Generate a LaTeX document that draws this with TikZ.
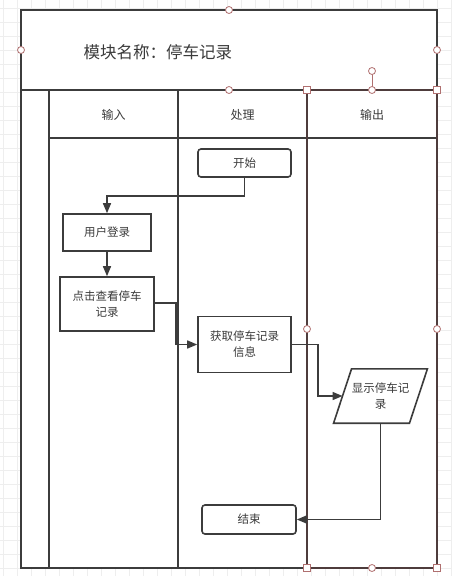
\documentclass[tikz,border=0pt]{standalone}
\usepackage{fontspec}
\setmainfont{Noto Sans CJK SC}
\usetikzlibrary{arrows.meta,calc}
\definecolor{frameC}{HTML}{3C3C3C}
\definecolor{selC}{HTML}{4E3C3C}
\definecolor{handleC}{HTML}{B07070}
\definecolor{txtC}{HTML}{3A3A3A}
\definecolor{gridC}{HTML}{EEEEEE}
\tikzset{
  frame/.style={draw=frameC,line width=1.8pt},
  sel/.style={draw=selC,line width=1.8pt},
  boxstyle/.style={draw=frameC,line width=1.6pt,fill=white,text=txtC,align=center,
    font=\fontsize{11.5}{16}\selectfont,inner sep=0pt},
  termbox/.style={boxstyle,rounded corners=3pt},
  flow/.style={draw=frameC,line width=1.5pt,-{Triangle[length=10pt,width=8pt]}},
  lanelabel/.style={text=txtC,font=\fontsize{12}{14}\selectfont},
  hcirc/.style={draw=handleC,fill=white,line width=0.8pt,circle,minimum size=7pt,inner sep=0pt},
  hsq/.style={draw=handleC,fill=white,line width=0.8pt,rectangle,minimum size=7pt,inner sep=0pt}
}
\begin{document}
\begin{tikzpicture}[x=1pt,y=-1pt]
\useasboundingbox (0,0) rectangle (452,576);
\fill[white] (0,0) rectangle (452,576);
% background grid
\foreach \i in {0,...,32} {\draw[gridC,line width=0.6pt] ({3+14*\i},0) -- ({3+14*\i},576);}
\foreach \j in {0,...,41} {\draw[gridC,line width=0.6pt] (0,{8+14*\j}) -- (452,{8+14*\j});}
\fill[white] (21,10) rectangle (437,568);
% frame and lanes
\draw[frame] (21,10) rectangle (437,568);
\draw[frame] (21,90) -- (307,90);
\draw[frame] (49,90) -- (49,568);
\draw[frame] (178,90) -- (178,568);
\draw[frame] (49,138) -- (437,138);
\draw[sel] (307,90) rectangle (437,568);
% title and lane labels
\node[anchor=west,text=txtC,font=\fontsize{16.5}{20}\selectfont] (title) at (80,52) {模块名称：停车记录};
\node[lanelabel] (lin) at (113.5,115) {输入};
\node[lanelabel] (lproc) at (242.5,115) {处理};
\node[lanelabel] (lout) at (372,115) {输出};
% flow nodes
\node[termbox,minimum width=93pt,minimum height=28pt] (start) at (244.5,163) {开始};
\node[boxstyle,minimum width=88pt,minimum height=37pt] (login) at (107,232.5) {用户登录};
\node[boxstyle,minimum width=94pt,minimum height=54pt] (click) at (107,304) {点击查看停车\\记录};
\node[boxstyle,minimum width=93pt,minimum height=56pt] (fetch) at (244.5,344.5) {获取停车记录\\信息};
\node[text=txtC,align=center,font=\fontsize{11.5}{16}\selectfont,inner sep=0pt,minimum width=75.5pt,minimum height=54pt] (disp) at (380.5,396) {显示停车记\\录};
\draw[draw=frameC,line width=1.6pt,line join=miter]
  ($(disp.north west)+(9,0)$) -- ($(disp.north east)+(9,0)$) -- ($(disp.south east)+(-9,0)$) -- ($(disp.south west)+(-9,0)$) -- cycle;
\node[termbox,minimum width=94pt,minimum height=29pt] (end) at (249,519.5) {结束};
% connectors
\draw[flow] (start.south) |- (107,196) -- (login.north);
\draw[flow] (login) -- (click);
\draw[flow] (click.east |- 0,303) -- (176,303) |- (fetch.west);
\draw[flow] (fetch.east) -- (318,344.5) |- (disp.west);
\draw[flow] (disp.south) |- (end.east);
% selection handles
\draw[handleC,line width=0.8pt] (372,71) -- (372,90);
\node[hcirc] (h1) at (229,10) {};
\node[hcirc] (h2) at (21,50) {};
\node[hcirc] (h3) at (437,50) {};
\node[hcirc] (h4) at (229,90) {};
\node[hcirc] (h5) at (372,90) {};
\node[hcirc] (h6) at (372,71) {};
\node[hsq] (h7) at (307,90) {};
\node[hsq] (h8) at (437,90) {};
\node[hcirc] (h9) at (307,329) {};
\node[hcirc] (h10) at (437,329) {};
\node[hsq] (h11) at (307,568) {};
\node[hcirc] (h12) at (372,568) {};
\node[hsq] (h13) at (437,568) {};
\end{tikzpicture}
\end{document}
